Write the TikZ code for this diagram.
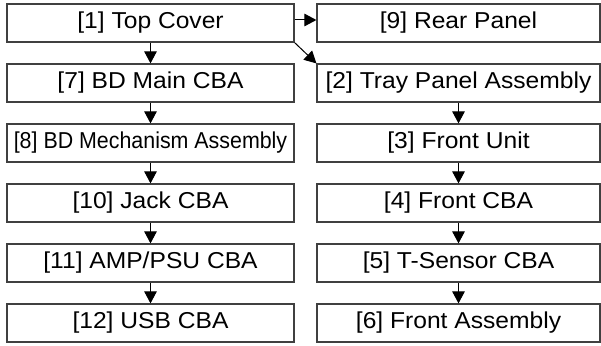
\documentclass[tikz,border=0pt]{standalone}
\usepackage{fontspec}
\setmainfont{Liberation Sans}[FakeStretch=1.07]
\newfontfamily\condsans{Liberation Sans}[FakeStretch=0.93]
\usepackage{xcolor}
\usepackage{tikz}
\usetikzlibrary{arrows.meta,positioning}

\begin{document}
\begin{tikzpicture}[x=1pt,y=-1pt,>={Triangle[length=12pt,width=12.5pt]}]
\tikzstyle{lbox}=[draw=black!75,line width=1.2pt,minimum width=287pt,minimum height=38pt,inner sep=0pt,font=\fontsize{23}{26}\selectfont]
\tikzstyle{rbox}=[lbox,minimum width=283pt]
\tikzstyle{arr}=[->,line width=1pt,black]
\useasboundingbox (0,0) rectangle (601,345);
% left column
\node[lbox] (b1) at (150.5,23) {[1] Top Cover};
\node[lbox] (b7) at (150.5,83) {[7] BD Main CBA};
\node[lbox,font=\condsans\fontsize{23}{26}\selectfont] (b8) at (150.5,143) {[8] BD Mechanism Assembly};
\node[lbox] (b10) at (150.5,203) {[10] Jack CBA};
\node[lbox] (b11) at (150.5,263) {[11] AMP/PSU CBA};
\node[lbox] (b12) at (150.5,323) {[12] USB CBA};
% right column
\node[rbox] (b9) at (458.5,23) {[9] Rear Panel};
\node[rbox] (b2) at (458.5,83) {[2] Tray Panel Assembly};
\node[rbox] (b3) at (458.5,143) {[3] Front Unit};
\node[rbox] (b4) at (458.5,203) {[4] Front CBA};
\node[rbox] (b5) at (458.5,263) {[5] T-Sensor CBA};
\node[rbox] (b6) at (458.5,323) {[6] Front Assembly};
\draw[arr] ([yshift=3pt]b1.east) -- ([yshift=3pt]b9.west);
\draw[arr] (b1.south east) -- (b2.north west);
\draw[arr] (b1) -- (b7);
\draw[arr] (b7) -- (b8);
\draw[arr] (b8) -- (b10);
\draw[arr] (b10) -- (b11);
\draw[arr] (b11) -- (b12);
\draw[arr] (b2) -- (b3);
\draw[arr] (b3) -- (b4);
\draw[arr] (b4) -- (b5);
\draw[arr] (b5) -- (b6);
\end{tikzpicture}
\end{document}
